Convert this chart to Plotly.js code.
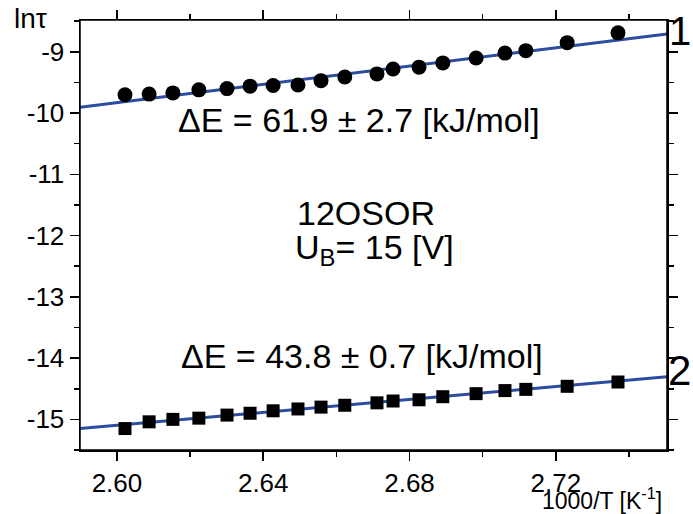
<!DOCTYPE html>
<html>
<head>
<meta charset="utf-8">
<script src="https://cdn.plot.ly/plotly-3.0.1.min.js"></script>
<style>html,body{margin:0;padding:0;background:#fff;}#chart{width:693px;height:514px;}</style>
</head>
<body>
<div id="chart"></div>
<script>
// 1000/T values (K^-1)
const invT = [2.6022, 2.6088, 2.6153, 2.6224, 2.6301, 2.6364, 2.6427, 2.6495, 2.6558, 2.6623,
              2.6711, 2.6755, 2.6826, 2.6891, 2.6982, 2.7061, 2.7118, 2.7231, 2.7370];
// series 1 (circles) ln(tau)
const lnTau1 = [-9.70, -9.69, -9.67, -9.62, -9.60, -9.56, -9.55, -9.54, -9.47, -9.41,
                -9.36, -9.28, -9.25, -9.18, -9.10, -9.02, -8.98, -8.85, -8.69];
// series 2 (squares) ln(tau)
const lnTau2 = [-15.15, -15.04, -15.00, -14.98, -14.93, -14.90, -14.86, -14.83, -14.80, -14.77,
                -14.73, -14.70, -14.68, -14.63, -14.58, -14.53, -14.51, -14.46, -14.39];
// Arrhenius fits: slope = dE / R, intercepts
const dE = [61.9, 43.8];          // kJ/mol
const dEerr = [2.7, 0.7];
const intercepts = [-29.186, -28.793];
const R = 8.314;                  // J/(mol K)
const xRange = [2.5899, 2.7504];
const yRange = [-15.5, -8.48];
const xTicks = [2.60, 2.64, 2.68, 2.72];
const xTickText = ['2.60', '2.64', '2.68', '2.72'];
const yTicks = [-9, -10, -11, -12, -13, -14, -15];
const yTickText = ['-9', '-10', '-11', '-12', '-13', '-14', '-15'];

function fitLine(i) {
  const slope = dE[i] / R;
  return { x: xRange.slice(), y: xRange.map(v => intercepts[i] + slope * v) };
}
const f1 = fitLine(0), f2 = fitLine(1);
const blue = '#2b4c9f';
const font = 'Liberation Sans, Arial, sans-serif';

const traces = [
  {x: f1.x, y: f1.y, mode: 'lines', line: {color: blue, width: 3}, hoverinfo: 'skip'},
  {x: f2.x, y: f2.y, mode: 'lines', line: {color: blue, width: 3}, hoverinfo: 'skip'},
  {x: invT, y: lnTau1, mode: 'markers', marker: {symbol: 'circle', size: 15, color: '#000'}},
  {x: invT, y: lnTau2, mode: 'markers', marker: {symbol: 'square', size: 13, color: '#000'}}
];

const fmt = (i) => '\u0394E = ' + dE[i].toFixed(1) + ' \u00B1 ' + dEerr[i].toFixed(1) + ' [kJ/mol]';

const layout = {
  width: 693, height: 514,
  margin: {l: 80, r: 26, t: 20, b: 64},
  showlegend: false,
  paper_bgcolor: '#fff', plot_bgcolor: '#fff',
  font: {family: font, color: '#000', size: 26},
  xaxis: {
    range: xRange, tickvals: xTicks, ticktext: xTickText,
    showgrid: false, zeroline: false, showline: true, linecolor: '#000', linewidth: 1.5, mirror: 'ticks',
    ticks: 'outside', ticklen: 9, tickwidth: 1.5, tickcolor: '#000',
    minor: {dtick: 0.02, tick0: 2.60, ticks: 'outside', ticklen: 5, tickwidth: 1.5, tickcolor: '#000', showgrid: false},
    tickfont: {size: 26, family: font}
  },
  yaxis: {
    range: yRange, tickvals: yTicks, ticktext: yTickText,
    showgrid: false, zeroline: false, showline: true, linecolor: '#000', linewidth: 1.5, mirror: 'ticks',
    ticks: 'outside', ticklen: 9, tickwidth: 1.5, tickcolor: '#000',
    minor: {dtick: 0.5, tick0: -9, ticks: 'outside', ticklen: 5, tickwidth: 1.5, tickcolor: '#000', showgrid: false},
    tickfont: {size: 26, family: font}
  },
  shapes: [
    {type: 'rect', xref: 'paper', yref: 'paper', x0: 0, x1: 1, y0: 0, y1: 1, layer: 'above', line: {color: '#000', width: 1.5}, fillcolor: 'rgba(0,0,0,0)'}
  ],
  annotations: [
    {xref: 'x', yref: 'y', x: 2.6662, y: -10.11, text: fmt(0), showarrow: false, font: {size: 34}},
    {xref: 'x', yref: 'y', x: 2.668, y: -11.63, text: '12OSOR', showarrow: false, font: {size: 34}},
    {xref: 'x', yref: 'y', x: 2.6705, y: -12.23, text: 'U<sub>B</sub>= 15 [V]', showarrow: false, font: {size: 34}},
    {xref: 'x', yref: 'y', x: 2.667, y: -13.97, text: fmt(1), showarrow: false, font: {size: 34}},
    {xref: 'paper', yref: 'paper', x: -0.115, y: 1.045, xanchor: 'left', yanchor: 'top', text: 'ln\u03C4', showarrow: false, font: {size: 28}},
    {xref: 'paper', yref: 'paper', x: 1.044, y: 0.975, xanchor: 'right', yanchor: 'middle', text: '1', showarrow: false, font: {size: 40}},
    {xref: 'paper', yref: 'paper', x: 1.044, y: 0.185, xanchor: 'right', yanchor: 'middle', text: '2', showarrow: false, font: {size: 42}},
    {xref: 'paper', yref: 'paper', x: 0.995, y: -0.113, xanchor: 'right', yanchor: 'middle', text: '1000/T [K<sup>-1</sup>]', showarrow: false, font: {size: 23}}
  ]
};

Plotly.newPlot('chart', traces, layout, {displayModeBar: false, staticPlot: true});
</script>
</body>
</html>
